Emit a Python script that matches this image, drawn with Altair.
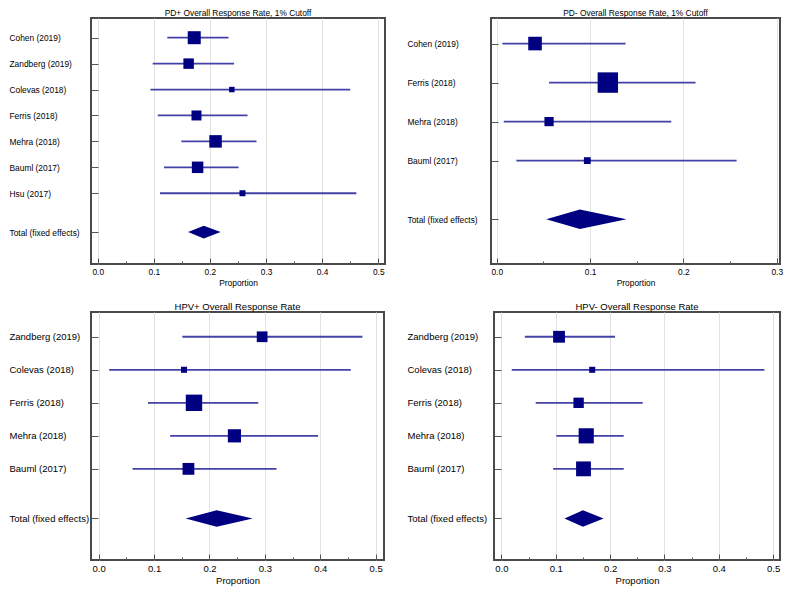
import altair as alt
import pandas as pd

FONT = "Liberation Sans"
NAVY = "#000080"
LINE = "#4242a6"

# ---------------- data ----------------
p1_title = "PD+ Overall Response Rate, 1% Cutoff"
p1_studies = ["Cohen (2019)", "Zandberg (2019)", "Colevas (2018)", "Ferris (2018)",
              "Mehra (2018)", "Bauml (2017)", "Hsu (2017)"]
p1_est = [0.172, 0.162, 0.239, 0.176, 0.210, 0.178, 0.258]
p1_lo = [0.124, 0.098, 0.094, 0.107, 0.149, 0.118, 0.111]
p1_hi = [0.233, 0.243, 0.450, 0.267, 0.283, 0.251, 0.461]
p1_weight = [23.1, 15.0, 4.1, 13.6, 21.3, 18.0, 4.9]
p1_total = [0.161, 0.189, 0.219]
p1_ticks = [0.0, 0.05, 0.1, 0.15, 0.2, 0.25, 0.3, 0.35, 0.4, 0.45, 0.5]

p2_title = "PD- Overall Response Rate, 1% Cutoff"
p2_studies = ["Cohen (2019)", "Ferris (2018)", "Mehra (2018)", "Bauml (2017)"]
p2_est = [0.041, 0.119, 0.056, 0.097]
p2_lo = [0.006, 0.056, 0.0075, 0.021]
p2_hi = [0.138, 0.213, 0.187, 0.257]
p2_weight = [25.2, 56.9, 11.6, 6.3]
p2_total = [0.053, 0.089, 0.139]
p2_ticks = [0.0, 0.05, 0.1, 0.15, 0.2, 0.25, 0.3]

p3_title = "HPV+ Overall Response Rate"
p3_studies = ["Zandberg (2019)", "Colevas (2018)", "Ferris (2018)", "Mehra (2018)", "Bauml (2017)"]
p3_est = [0.295, 0.154, 0.172, 0.245, 0.162]
p3_lo = [0.151, 0.019, 0.089, 0.129, 0.061]
p3_hi = [0.476, 0.455, 0.288, 0.396, 0.321]
p3_weight = [15.7, 5.0, 36.7, 23.7, 19.0]
p3_total = [0.157, 0.213, 0.278]
p3_ticks = [0.0, 0.05, 0.1, 0.15, 0.2, 0.25, 0.3, 0.35, 0.4, 0.45, 0.5]

p4_title = "HPV- Overall Response Rate"
p4_studies = ["Zandberg (2019)", "Colevas (2018)", "Ferris (2018)", "Mehra (2018)", "Bauml (2017)"]
p4_est = [0.106, 0.167, 0.142, 0.156, 0.151]
p4_lo = [0.043, 0.019, 0.063, 0.101, 0.095]
p4_hi = [0.209, 0.484, 0.260, 0.225, 0.225]
p4_weight = [19.0, 5.0, 14.7, 31.3, 30.0]
p4_total = [0.116, 0.150, 0.188]
p4_ticks = [0.0, 0.05, 0.1, 0.15, 0.2, 0.25, 0.3, 0.35, 0.4, 0.45, 0.5]

TOTAL_LABEL = "Total (fixed effects)"


def panel(title, studies, est, lo, hi, weight, total, ticks,
          xdom, ydom, width, height, fs, label_pad, size_max):
    n = len(studies)
    rows = list(range(1, n + 1))
    trow = n + 1.5
    df = pd.DataFrame({"study": studies, "row": rows, "est": est,
                       "lo": lo, "hi": hi, "w": weight})
    shape = [0, 1, 0]
    dd = pd.DataFrame({"x": total,
                       "ya": [trow - 0.25 * s for s in shape],
                       "yb": [trow + 0.25 * s for s in shape]})

    names = studies + [TOTAL_LABEL]
    vals = rows + [trow]
    expr = "''"
    for v, nm in reversed(list(zip(vals, names))):
        expr = f"datum.value == {v} ? '{nm}' : ({expr})"

    minor = "round(datum.value*20) % 2 == 1"
    xaxis = alt.Axis(
        values=ticks, labelExpr="round(datum.value*20) % 2 == 0 ? format(datum.value, '.1f') : ''",
        title="Proportion", offset=-6, tickSize=6, tickColor="#555", tickWidth=1,
        tickDash={"condition": {"test": minor, "value": [0, 3, 3]}, "value": [6, 0]},
        domain=False, grid=True, gridColor="#e2e2e2", gridWidth=1,
        gridOpacity={"condition": {"test": minor, "value": 0}, "value": 1},
        labelFont=FONT, labelFontSize=fs, labelColor="#000", labelPadding=3,
        labelFlush=False, titleFont=FONT, titleFontSize=fs, titleFontWeight="normal",
        titleColor="#000", titlePadding=3)
    yaxis = alt.Axis(
        values=vals, labelExpr=expr, title=None, offset=-7, tickSize=7,
        tickColor="#555", tickWidth=1, domain=False, grid=False,
        labelAlign="left", labelBaseline="middle", labelPadding=label_pad,
        labelFont=FONT, labelFontSize=fs, labelColor="#000")
    xs = alt.Scale(domain=xdom, nice=False, zero=False)
    ys = alt.Scale(domain=ydom, nice=False, zero=False, reverse=True)

    base = alt.Chart(df)
    rules = base.mark_rule(color=LINE, strokeWidth=1.8).encode(
        x=alt.X("lo:Q", scale=xs, axis=xaxis), x2="hi:Q",
        y=alt.Y("row:Q", scale=ys, axis=yaxis))
    squares = base.mark_square(color=NAVY, opacity=1).encode(
        x=alt.X("est:Q", scale=xs, axis=xaxis),
        y=alt.Y("row:Q", scale=ys, axis=yaxis),
        size=alt.Size("w:Q", scale=alt.Scale(domain=[0, 100], range=[0, size_max]), legend=None))
    diamond = alt.Chart(dd).mark_area(color=NAVY, orient="vertical", opacity=1).encode(
        x=alt.X("x:Q", scale=xs, axis=xaxis),
        y=alt.Y("ya:Q", scale=ys, axis=yaxis), y2="yb:Q")
    return alt.layer(rules, squares, diamond).properties(
        width=width, height=height,
        title=alt.TitleParams(title, font=FONT, fontSize=fs, fontWeight="normal",
                              color="#000", offset=1, anchor="middle"))


c1 = panel(p1_title, p1_studies, p1_est, p1_lo, p1_hi, p1_weight, p1_total, p1_ticks,
           [-0.012, 0.512], [0.24, 9.73], 294, 246, 8.4, 82, 733)
c2 = panel(p2_title, p2_studies, p2_est, p2_lo, p2_hi, p2_weight, p2_total, p2_ticks,
           [-0.0062, 0.3035], [0.345, 6.65], 289, 246, 8.4, 84, 508)
c3 = panel(p3_title, p3_studies, p3_est, p3_lo, p3_hi, p3_weight, p3_total, p3_ticks,
           [-0.0139, 0.515], [0.25, 7.76], 293, 248, 9.5, 82, 638)
c4 = panel(p4_title, p4_studies, p4_est, p4_lo, p4_hi, p4_weight, p4_total, p4_ticks,
           [-0.0137, 0.5126], [0.25, 7.76], 286, 248, 9.5, 87, 720)

chart = alt.concat(c1, c2, c3, c4, columns=2, align="none",
                   spacing={"row": 12, "column": 20}).properties(
    padding={"left": 0, "top": -1, "right": 0, "bottom": 0}
).configure(font=FONT, background="white").configure_view(stroke="#4a4a4a", strokeWidth=2)

chart.save("out.html", embed_options={"renderer": "svg", "actions": False})
